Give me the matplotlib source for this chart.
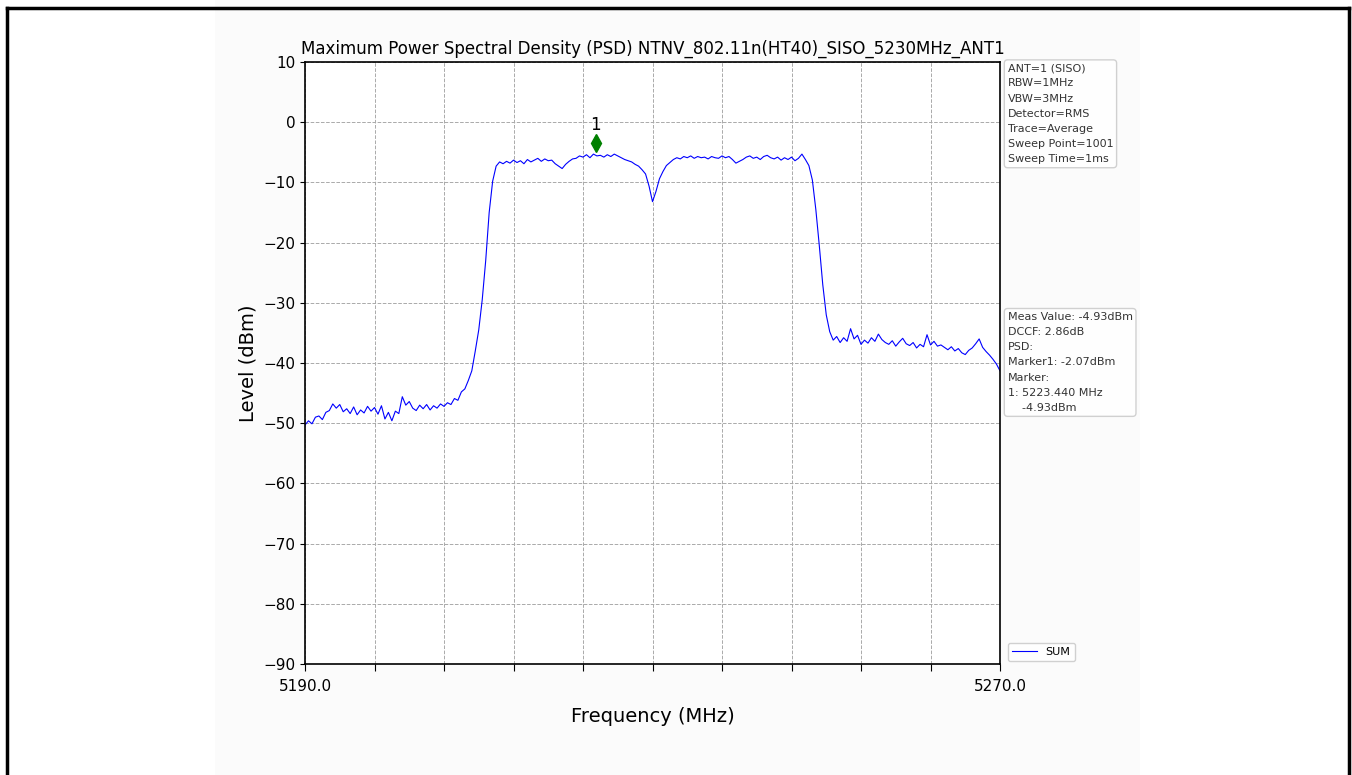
import numpy as np
import matplotlib
matplotlib.use('Agg')
import matplotlib.pyplot as plt
from matplotlib.lines import Line2D
from matplotlib.patches import Rectangle

# 频率轴: 5190 ~ 5270 MHz, 步进 0.4 MHz
freq_start, freq_stop, freq_step = 5190.0, 5270.0, 0.4

# 读图得到的电平 (dBm)
level = [
    -50.3, -49.6, -50.1, -49.0, -48.8, -49.4, -48.2, -47.9, -46.8, -47.5,
    -46.9, -48.1, -47.6, -48.4, -47.3, -48.6, -47.8, -48.3, -47.2, -48.0,
    -47.4, -48.5, -47.1, -49.3, -48.2, -49.6, -48.0, -48.4, -45.6, -47.0,
    -46.4, -47.5, -47.9, -47.0, -47.6, -46.9, -47.8, -47.1, -47.5, -46.8,
    -47.2, -46.6, -46.9, -45.9, -46.2, -44.8, -44.3, -42.9, -41.3, -38.0,
    -34.5, -29.5, -23.0, -15.0, -9.8, -7.3, -6.6, -6.9, -6.5, -6.8,
    -6.3, -6.7, -6.4, -6.9, -6.2, -6.6, -6.3, -6.0, -6.5, -6.1,
    -6.4, -6.3, -6.9, -7.3, -7.7, -7.0, -6.5, -6.1, -6.0, -5.6,
    -5.8, -5.4, -5.9, -5.3, -5.6, -5.5, -5.8, -5.4, -5.7, -5.3,
    -5.6, -5.9, -6.2, -6.4, -6.6, -7.0, -7.3, -7.9, -8.6, -10.6,
    -13.2, -11.5, -9.4, -8.2, -7.2, -6.7, -6.2, -5.9, -6.1, -5.7,
    -5.9, -5.6, -6.0, -5.7, -5.9, -5.8, -6.1, -5.7, -5.9, -6.0,
    -5.6, -5.9, -5.7, -6.2, -6.8, -6.5, -6.2, -5.8, -5.6, -6.0,
    -5.8, -6.2, -5.7, -5.5, -5.9, -6.1, -5.8, -6.3, -5.9, -6.2,
    -5.8, -6.4, -6.0, -5.3, -6.2, -7.2, -9.6, -14.5, -20.5, -27.0,
    -32.0, -34.8, -36.2, -35.6, -36.6, -35.8, -36.4, -34.3, -36.0, -35.4,
    -36.9, -36.2, -36.7, -35.8, -36.4, -35.2, -36.1, -36.6, -36.9, -36.3,
    -37.2, -36.5, -35.9, -36.8, -37.1, -36.6, -37.5, -36.9, -37.3, -35.3,
    -37.0, -36.4, -37.2, -37.0, -37.4, -37.8, -37.3, -38.0, -37.6, -38.3,
    -38.6, -37.9, -37.5, -36.8, -36.0, -37.4, -38.1, -38.7, -39.4, -40.2,
    -41.3,
]
freq = freq_start + freq_step * np.arange(len(level))

# Marker 1
marker_freq = 5223.44
marker_plot_level = -3.5

info_text = ('ANT=1 (SISO)\nRBW=1MHz\nVBW=3MHz\nDetector=RMS\n'
             'Trace=Average\nSweep Point=1001\nSweep Time=1ms')
meas_text = ('Meas Value: -4.93dBm\nDCCF: 2.86dB\nPSD:\nMarker1: -2.07dBm\n'
             'Marker:\n1: 5223.440 MHz\n    -4.93dBm')

fig = plt.figure(figsize=(13.52, 7.75), dpi=100)
fig.patch.set_facecolor('white')

# 图片外框和浅灰底
fig.add_artist(Rectangle((215 / 1352, 0), 925 / 1352, 1, transform=fig.transFigure,
                         facecolor='#fbfbfb', edgecolor='none', zorder=-10))
for xs, ys in [([7 / 1352, 7 / 1352], [0, 1 - 8 / 775]),
               ([7 / 1352, 1349 / 1352], [1 - 8 / 775, 1 - 8 / 775]),
               ([1349 / 1352, 1349 / 1352], [0, 1 - 8 / 775])]:
    fig.add_artist(Line2D(xs, ys, transform=fig.transFigure, color='black', linewidth=2.5))

ax = fig.add_axes([305 / 1352, 1 - 664 / 775, 695 / 1352, 602 / 775])
ax.set_facecolor('white')
ax.plot(freq, level, color='blue', linewidth=0.8, label='SUM')
ax.plot(marker_freq, marker_plot_level, marker='d', color='green', markersize=9, linestyle='none')
ax.text(marker_freq, marker_plot_level + 1.6, '1', ha='center', va='bottom', fontsize=12)

ax.set_xlim(freq_start, freq_stop)
ax.set_ylim(-90, 10)
xt = np.arange(5190, 5271, 8)
ax.set_xticks(xt)
ax.set_xticklabels(['5190.0'] + [''] * (len(xt) - 2) + ['5270.0'], fontsize=11)
ax.set_yticks(np.arange(-90, 11, 10))
ax.tick_params(axis='y', labelsize=11)
ax.tick_params(axis='x', pad=6, length=5)
ax.grid(True, linestyle='--', color='#aaaaaa', linewidth=0.7)
for sp in ax.spines.values():
    sp.set_linewidth(1.2)

ax.set_title('Maximum Power Spectral Density (PSD) NTNV_802.11n(HT40)_SISO_5230MHz_ANT1',
             fontsize=12, pad=6)
ax.set_xlabel('Frequency (MHz)', fontsize=14, labelpad=9)
ax.set_ylabel('Level (dBm)', fontsize=14)

box = dict(boxstyle='round,pad=0.3', facecolor='white', edgecolor='#cccccc', alpha=0.9)
ax.text(1.011, 0.998, info_text, transform=ax.transAxes, fontsize=8, va='top', ha='left',
        color='#333333', bbox=box, linespacing=1.65)
ax.text(1.011, 0.585, meas_text, transform=ax.transAxes, fontsize=8, va='top', ha='left',
        color='#333333', bbox=box, linespacing=1.65)

ax.legend(loc='lower left', bbox_to_anchor=(1.003, -0.005), fontsize=8,
          handlelength=2.2, framealpha=0.9, edgecolor='#cccccc')

fig.savefig('out.png', dpi=100)
